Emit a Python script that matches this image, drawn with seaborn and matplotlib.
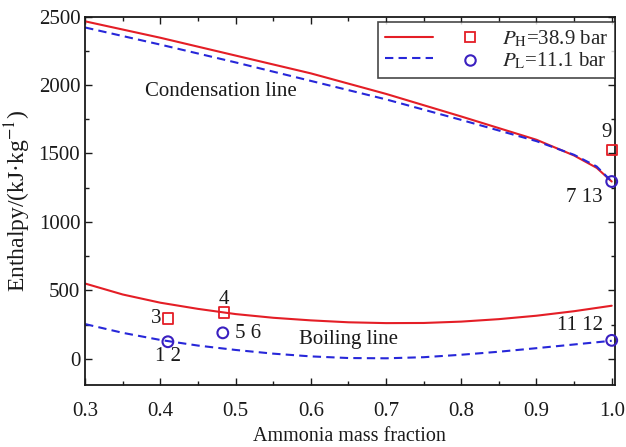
import numpy as np
import pandas as pd
import matplotlib
matplotlib.use("Agg")
import matplotlib.pyplot as plt
import seaborn as sns
from matplotlib.lines import Line2D
from matplotlib.ticker import MultipleLocator

sns.set_theme(style="ticks")
plt.rcParams['font.family'] = ['Liberation Serif', 'DejaVu Serif']
plt.rcParams['mathtext.fontset'] = 'stix'

# Condensation (dew) lines
cond_x = [0.3, 0.4, 0.5, 0.6, 0.7, 0.8, 0.9, 0.95, 0.98, 1.0]
cond_high = [2465, 2345, 2215, 2085, 1935, 1770, 1600, 1485, 1395, 1295]
cond_low = [2420, 2295, 2165, 2030, 1895, 1745, 1590, 1490, 1405, 1295]

# Boiling (bubble) lines
boil_x = [0.3, 0.35, 0.4, 0.45, 0.5, 0.55, 0.6, 0.65, 0.7, 0.75, 0.8, 0.85, 0.9, 0.95, 1.0]
boil_high = [550, 470, 410, 365, 327, 300, 281, 267, 261, 262, 272, 290, 315, 348, 388]
boil_low = [254, 190, 138, 97, 65, 38, 18, 6, 4, 12, 30, 52, 78, 105, 132]

# State points
pts_high_x = [0.41, 0.485, 1.0]
pts_high_y = [295, 338, 1525]
pts_low_x = [0.41, 0.483, 1.0, 1.0]
pts_low_y = [125, 190, 1295, 135]

labels_txt = ["3", "4", "1 2", "5 6", "9", "7 13", "11 12"]
labels_x = [0.401, 0.485, 0.41, 0.499, 0.993, 0.988, 0.988]
labels_y = [295, 430, 15, 185, 1650, 1180, 245]

red = '#e41e26'
blue = '#2727d9'
circ = '#3a20c0'
ink = '#1a1a1a'
FS = 15

fig = plt.figure(figsize=(6.26, 4.47), dpi=100)
ax = fig.add_axes([0.136, 0.139, 0.846, 0.824])

df_c = pd.DataFrame({'x': cond_x, 'h': cond_high, 'l': cond_low})
df_b = pd.DataFrame({'x': boil_x, 'h': boil_high, 'l': boil_low})

dash = (0, (4, 2.5))
sns.lineplot(data=df_c, x='x', y='h', ax=ax, color=red, lw=1.5, estimator=None, sort=False)
sns.lineplot(data=df_c, x='x', y='l', ax=ax, color=blue, lw=1.5, linestyle=dash, estimator=None, sort=False)
sns.lineplot(data=df_b, x='x', y='h', ax=ax, color=red, lw=1.5, estimator=None, sort=False)
sns.lineplot(data=df_b, x='x', y='l', ax=ax, color=blue, lw=1.5, linestyle=dash, estimator=None, sort=False)

sns.scatterplot(x=pts_high_x, y=pts_high_y, ax=ax, marker='s', s=55,
                facecolor='none', edgecolor=red, linewidth=1.3, zorder=5, clip_on=False)
sns.scatterplot(x=pts_low_x, y=pts_low_y, ax=ax, marker='o', s=60,
                facecolor='none', edgecolor=circ, linewidth=1.5, zorder=5, clip_on=False)

aligns = {'3': 'right', '5 6': 'left', '7 13': 'right', '11 12': 'right'}
for t, x, y in zip(labels_txt, labels_x, labels_y):
    ax.text(x, y, t, fontsize=FS, ha=aligns.get(t, 'center'), va='center', color=ink)

ax.text(0.38, 1950, 'Condensation line', fontsize=FS, ha='left', va='center', color=ink)
ax.text(0.584, 140, 'Boiling line', fontsize=FS, ha='left', va='center', color=ink)

ax.set_xlim(0.3, 1.004)
ax.set_ylim(-190, 2500)
ax.xaxis.set_minor_locator(MultipleLocator(0.05))
ax.yaxis.set_major_locator(MultipleLocator(500))
ax.yaxis.set_minor_locator(MultipleLocator(250))
ax.set_xticks(np.arange(0.3, 1.01, 0.1))
ax.set_xticklabels(['0.3', '0.4', '0.5', '0.6', '0.7', '0.8', '0.9', '1.0'])
ax.tick_params(which='both', direction='in', top=True, right=True, labelsize=FS, colors=ink)
ax.tick_params(which='major', length=5, width=1)
ax.tick_params(which='minor', length=3, width=1)
ax.tick_params(axis='x', which='major', pad=12)
for sp in ax.spines.values():
    sp.set_linewidth(1.3)
    sp.set_color(ink)

ax.set_xlabel('Ammonia mass fraction', fontsize=14.5, color=ink, labelpad=5)
ax.set_ylabel('Enthalpy/(kJ\u00b7kg$^{-1}$)', fontsize=17, color=ink, labelpad=4)

hl = Line2D([], [], color=red, lw=1.5)
ll = Line2D([], [], color=blue, lw=1.5, linestyle=dash)
hm = Line2D([], [], color=red, marker='s', ls='none', mfc='none', mec=red, ms=7, mew=1.3)
lm = Line2D([], [], color=circ, marker='o', ls='none', mfc='none', mec=circ, ms=7.5, mew=1.5)
leg = ax.legend([hl, ll, hm, lm], ['', '', r'$P_\mathrm{H}$=38.9 bar', r'$P_\mathrm{L}$=11.1 bar'],
                ncol=2, loc='upper right', fontsize=FS, frameon=True, fancybox=False,
                edgecolor=ink, handlelength=2.3, columnspacing=0.25, handletextpad=0.4,
                borderpad=0.3, labelspacing=0.1, borderaxespad=0,
                bbox_to_anchor=(1.0, 0.985))
leg.get_frame().set_linewidth(1.2)

fig.savefig('out.png', dpi=100)
